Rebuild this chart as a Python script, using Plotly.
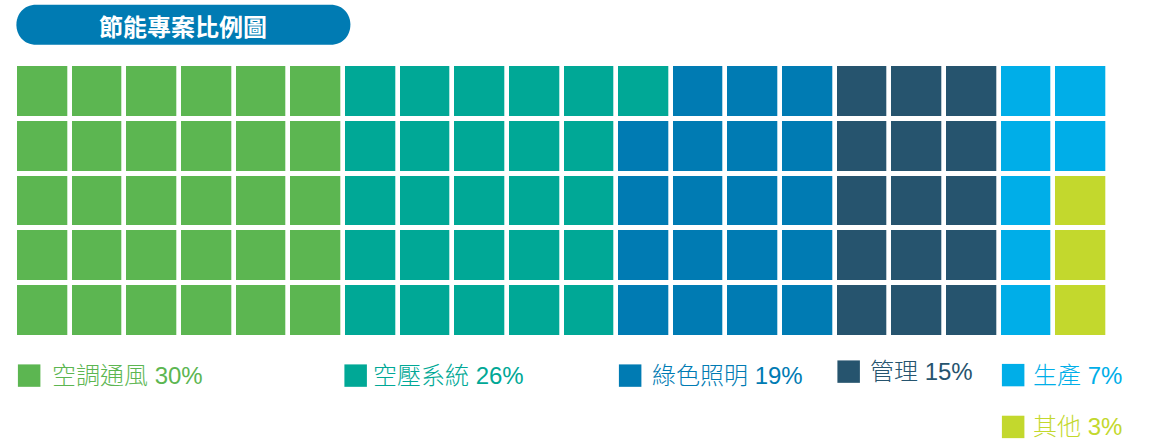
import plotly.graph_objects as go

# ---------------- data ----------------
categories = ["空調通風", "空壓系統", "綠色照明", "管理", "生產", "其他"]
values = [30, 26, 19, 15, 7, 3]
title_text = "節能專案比例圖"
n_rows = 5
n_cols = 20

# ---------------- styles ----------------
colors = ["#5CB651", "#00A896", "#007BB3", "#26546E", "#00AEE8", "#C3D82D"]
title_color = "#007BB3"

W, H = 1151, 444
L, R, T, B = 14.6, 43.4, 63.5, 105.5
PW, PH = W - L - R, H - T - B
GAP_X, GAP_Y = 4.7, 5
LEG_FONT = "Liberation Sans, Noto Sans CJK TC"


def px2x(px):
    return (px - L) / PW


def py2y(py):
    return 1 - (py - T) / PH


# build waffle grid: fill column by column, top to bottom
cells = []
for k, v in enumerate(values):
    cells += [k] * v
z = [[None] * n_cols for _ in range(n_rows)]
for i, c in enumerate(cells):
    col, row = divmod(i, n_rows)
    z[row][col] = c

ncat = len(categories)
colorscale = []
for k, c in enumerate(colors):
    colorscale.append([k / ncat, c])
    colorscale.append([(k + 1) / ncat, c])

fig = go.Figure(
    go.Heatmap(
        z=z,
        x=list(range(n_cols)),
        y=list(range(n_rows)),
        zmin=-0.5,
        zmax=ncat - 0.5,
        colorscale=colorscale,
        showscale=False,
        xgap=GAP_X,
        ygap=GAP_Y,
        hoverinfo="skip",
    )
)

shapes = []
annotations = []

# title pill
shapes.append(
    dict(
        type="path",
        xref="paper",
        yref="paper",
        xsizemode="pixel",
        ysizemode="pixel",
        xanchor=px2x(16),
        yanchor=py2y(24.2),
        path="M 20,-20 L 314,-20 C 340.67,-20 340.67,20 314,20 L 20,20 C -6.67,20 -6.67,-20 20,-20 Z",
        fillcolor=title_color,
        line=dict(width=0),
        layer="above",
    )
)
annotations.append(
    dict(
        text="<b>" + title_text + "</b>",
        xref="paper",
        yref="paper",
        x=px2x(182.5),
        y=py2y(24.5),
        xanchor="center",
        yanchor="middle",
        showarrow=False,
        font=dict(family="Noto Sans CJK TC", size=24, color="white"),
    )
)

# legend layout (pixel positions)
leg_sq_x = [17.5, 344, 618.5, 837, 1001.5, 1001.5]
leg_sq_y = [365, 365, 365, 361, 364.5, 416.5]
leg_txt_x = [50, 371, 649.5, 868, 1031, 1031]
SQ = 22.5

for k, name in enumerate(categories):
    x0, y0 = leg_sq_x[k], leg_sq_y[k]
    shapes.append(
        dict(
            type="rect",
            xref="paper",
            yref="paper",
            x0=px2x(x0),
            x1=px2x(x0 + SQ),
            y0=py2y(y0 + SQ),
            y1=py2y(y0),
            fillcolor=colors[k],
            line=dict(width=0),
        )
    )
    annotations.append(
        dict(
            text=f"{name} {values[k]}%",
            xref="paper",
            yref="paper",
            x=px2x(leg_txt_x[k]),
            y=py2y(y0 + SQ / 2),
            xanchor="left",
            yanchor="middle",
            showarrow=False,
            font=dict(family=LEG_FONT, size=24, color=colors[k], weight=300),
        )
    )

fig.update_layout(
    width=W,
    height=H,
    autosize=False,
    margin=dict(l=L, r=R, t=T, b=B, pad=0),
    paper_bgcolor="white",
    plot_bgcolor="white",
    xaxis=dict(visible=False, range=[-0.5, n_cols - 0.5], fixedrange=True),
    yaxis=dict(visible=False, range=[n_rows - 0.5, -0.5], fixedrange=True),
    shapes=shapes,
    annotations=annotations,
    showlegend=False,
)

fig.write_html(
    "out.html",
    config={"displayModeBar": False},
    post_script="document.body.style.margin='0';document.body.style.padding='0';",
)
